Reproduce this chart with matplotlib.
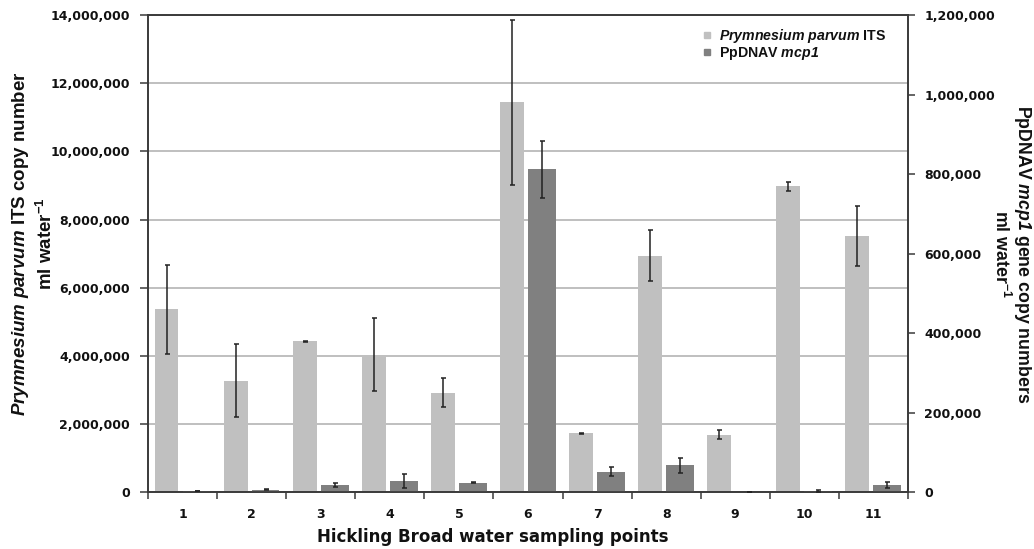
import matplotlib
matplotlib.use("Agg")
import matplotlib.pyplot as plt
from matplotlib.lines import Line2D
from matplotlib.ticker import FuncFormatter, FixedLocator
import numpy as np

plt.rcParams['mathtext.fontset'] = 'custom'
plt.rcParams['mathtext.rm'] = 'Liberation Sans:bold'
plt.rcParams['mathtext.it'] = 'Liberation Sans:italic:bold'
plt.rcParams['mathtext.sf'] = 'Liberation Sans:italic:bold'
plt.rcParams['mathtext.bf'] = 'Liberation Sans:bold'

# ---- data ----
sites = ['1', '2', '3', '4', '5', '6', '7', '8', '9', '10', '11']
its_copies = [5.37e6, 3.27e6, 4.43e6, 4.04e6, 2.92e6, 11.44e6, 1.73e6, 6.94e6, 1.69e6, 8.97e6, 7.51e6]
its_err = [1.30e6, 1.07e6, 0.02e6, 1.07e6, 0.43e6, 2.42e6, 0.02e6, 0.75e6, 0.14e6, 0.14e6, 0.88e6]
mcp_copies = [3000, 7000, 19000, 28000, 24500, 812000, 52000, 68000, 0, 3400, 19000]
mcp_err = [1000, 1500, 5000, 17000, 1000, 72000, 12000, 19000, 0, 3000, 8000]

left_ticks = [0, 2e6, 4e6, 6e6, 8e6, 10e6, 12e6, 14e6]
right_ticks = [0, 200000, 400000, 600000, 800000, 1000000, 1200000]

light = '#c0c0c0'
dark = '#808080'
spine_col = '#3a3a3a'

fig = plt.figure(figsize=(10.34, 5.49), dpi=100)
ax = fig.add_axes([0.1434, 0.1033, 0.7345, 0.8694])
ax2 = ax.twinx()

x = np.arange(1, len(sites) + 1)
ax.bar(x - 0.235, its_copies, width=0.345, color=light, zorder=2)
ax.errorbar(x - 0.235, its_copies, yerr=its_err, fmt='none',
            ecolor='#222222', elinewidth=1.1, capsize=1.8, capthick=1.1, zorder=3)
ax2.bar(x + 0.20, mcp_copies, width=0.40, color=dark, zorder=2)
ax2.errorbar(x + 0.20, mcp_copies, yerr=mcp_err, fmt='none',
             ecolor='#222222', elinewidth=1.1, capsize=1.8, capthick=1.1, zorder=3)

ax.set_xlim(0.5, len(sites) + 0.5)
ax.set_ylim(0, 14e6)
ax2.set_ylim(0, 1.2e6)

ax.yaxis.set_major_locator(FixedLocator(left_ticks))
ax2.yaxis.set_major_locator(FixedLocator(right_ticks))
fmt = FuncFormatter(lambda v, p: f'{v:,.0f}')
ax.yaxis.set_major_formatter(fmt)
ax2.yaxis.set_major_formatter(fmt)

ax.set_xticks(x)
ax.set_xticklabels(sites)
ax.set_xticks(np.arange(0.5, len(sites) + 1.0, 1.0), minor=True)
ax.tick_params(axis='x', which='major', length=0, pad=11)
ax.tick_params(axis='x', which='minor', length=5, width=1.1, color=spine_col, direction='out')

for lab in ax.get_xticklabels() + ax.get_yticklabels() + ax2.get_yticklabels():
    lab.set_fontfamily('DejaVu Sans')
    lab.set_fontweight('bold')
    lab.set_fontsize(9)
    lab.set_color('#111111')

ax.tick_params(axis='y', length=5.5, width=1.1, color=spine_col, pad=7.5, direction='out')
ax2.tick_params(axis='y', length=5, width=1.1, color=spine_col, pad=7, direction='out')

ax.grid(axis='y', color='#b4b4b4', linewidth=1.2, zorder=0)
ax.set_axisbelow(True)

for a in (ax, ax2):
    for s in a.spines.values():
        s.set_color(spine_col)
        s.set_linewidth(1.2)

# axis labels
fig.text(492.5 / 1034, (549 - 541.7) / 549, 'Hickling Broad water sampling points',
         ha='center', va='baseline', fontfamily='DejaVu Sans', fontweight='bold', fontsize=12,
         color='#111111')
fig.text(33 / 1034, 1 - 244 / 549,
         '$\\mathsf{Prymnesium\\ parvum}$ ITS copy number\nml water$^{-1}$',
         rotation=90, ha='center', va='center', multialignment='center',
         fontfamily='Liberation Sans', fontweight='bold', fontsize=13.5, linespacing=1.3,
         color='#111111')
fig.text(1012 / 1034, 1 - 254 / 549,
         'PpDNAV $\\mathsf{mcp1}$ gene copy numbers\nml water$^{-1}$',
         rotation=-90, ha='center', va='center', multialignment='center',
         fontfamily='Liberation Sans', fontweight='bold', fontsize=12.8, linespacing=1.05,
         color='#111111')

handles = [Line2D([], [], marker='s', ls='none', color=light, markersize=4.5),
           Line2D([], [], marker='s', ls='none', color=dark, markersize=4.5)]
labels = ['$\\mathsf{Prymnesium\\ parvum}$ ITS', 'PpDNAV $\\mathsf{mcp1}$']
leg = ax2.legend(handles, labels, loc='upper left',
                 bbox_to_anchor=(703 / 1034, 1 - 27 / 549), bbox_transform=fig.transFigure,
                 frameon=False, handlelength=0.6, handletextpad=0.5, labelspacing=0.0,
                 borderpad=0, borderaxespad=0,
                 prop=dict(family='Liberation Sans', weight='bold', size=10.2))
for t in leg.get_texts():
    t.set_color('#111111')

fig.savefig('out.png', dpi=100)
